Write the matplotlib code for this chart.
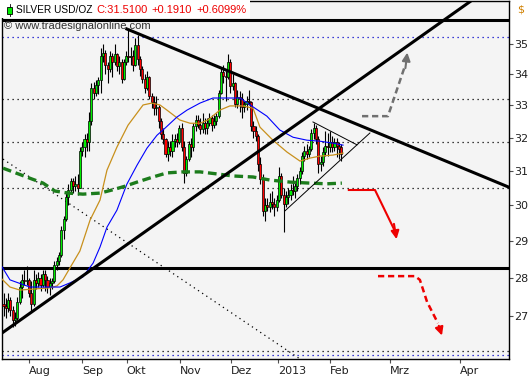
import numpy as np
import matplotlib.pyplot as plt
from matplotlib.patches import Rectangle
from matplotlib.ticker import FixedLocator, FixedFormatter, NullLocator

# daily candles, 17 Jul 2012 .. 8 Feb 2013 (x = trading day index)
opens = [27.30, 27.25, 27.20, 27.40, 27.15, 26.90, 26.95, 27.35, 27.75, 27.95, 27.90,
         27.95, 27.60, 27.30, 27.95, 27.85, 28.00, 27.80, 28.10, 27.95, 27.75, 27.85, 27.90,
         28.35, 28.45, 28.60, 29.30, 29.60, 30.25, 30.45, 30.70, 30.55, 30.60, 30.50,
         31.60, 31.70, 31.95, 31.85, 32.50, 33.55, 33.40, 33.65, 33.80, 34.60, 34.70, 34.30,
         34.15, 34.60, 34.40, 34.65, 34.25, 34.40, 33.85, 34.40,
         34.60, 34.55, 34.60, 34.30, 34.95, 34.50, 34.15, 33.85, 33.55, 33.90, 33.30, 33.10,
         32.90, 32.95, 32.50, 32.10, 31.95, 31.50, 31.70, 31.60, 31.90, 31.95, 31.85,
         32.30, 31.70, 30.95, 31.35, 31.80, 31.70, 32.35, 32.55, 32.40, 32.25, 32.45, 32.30,
         32.45, 32.60, 32.40, 32.50, 32.65, 33.40, 34.05, 33.95, 33.90, 34.40,
         33.60, 33.70, 33.05, 33.25, 33.20, 32.95, 33.05, 33.15, 33.10, 32.35, 32.20, 32.05,
         31.20, 30.75, 29.85, 30.00, 29.95, 30.10, 30.05, 29.95,
         30.15, 30.85, 30.30, 30.05, 30.25, 30.30, 30.45, 30.40, 30.55, 30.80, 31.00, 31.45,
         31.60, 31.50, 31.65, 32.15, 32.30, 31.95, 31.20, 31.25, 31.55, 31.75,
         31.70, 31.85, 31.70, 31.85, 31.75, 31.70]
highs = [27.60, 27.45, 27.60, 27.50, 27.25, 27.10, 27.50, 27.90, 28.10, 28.20, 28.30,
         28.00, 27.90, 28.20, 28.10, 28.15, 28.10, 28.20, 28.20, 28.05, 28.00, 28.00, 28.45,
         28.55, 28.70, 29.40, 29.70, 30.40, 30.60, 30.80, 30.80, 30.85, 30.90, 31.70,
         31.85, 32.10, 32.15, 32.80, 33.70, 33.75, 33.80, 33.90, 34.85, 35.00, 34.80, 34.40,
         34.75, 34.70, 35.00, 34.70, 34.60, 34.50, 34.50, 34.75,
         35.45, 34.90, 34.80, 35.20, 35.30, 34.60, 34.25, 34.00, 34.10, 33.95, 33.40, 33.30,
         33.30, 33.00, 32.60, 32.30, 32.00, 31.90, 31.90, 32.10, 32.10, 32.15, 32.40,
         32.45, 31.90, 31.45, 31.90, 32.00, 32.45, 32.70, 32.70, 32.60, 32.75, 32.60, 32.60,
         32.75, 32.70, 32.70, 32.75, 33.50, 34.20, 34.30, 34.10, 34.65, 34.50,
         34.00, 33.75, 33.50, 33.45, 33.40, 33.15, 33.30, 33.50, 33.15, 32.50, 32.35, 32.10,
         31.40, 30.90, 30.20, 30.20, 30.35, 30.40, 30.20, 30.30,
         31.10, 30.95, 30.50, 30.40, 30.50, 30.60, 30.85, 30.65, 30.90, 31.10, 31.55, 31.75,
         31.80, 31.75, 32.25, 32.45, 32.40, 32.05, 31.45, 31.70, 32.20, 32.15,
         32.20, 32.05, 32.00, 32.00, 31.85, 31.80]
lows = [27.00, 26.95, 27.10, 27.00, 26.70, 26.75, 26.90, 27.30, 27.45, 27.80, 27.80,
        27.50, 27.10, 27.25, 27.70, 27.75, 27.65, 27.75, 27.65, 27.60, 27.55, 27.70, 27.85,
        28.20, 28.35, 28.55, 29.05, 29.55, 30.00, 30.35, 30.35, 30.40, 30.30, 30.50,
        31.45, 31.40, 31.60, 31.60, 32.40, 33.20, 33.30, 33.35, 33.40, 34.40, 34.00, 33.70,
        34.05, 33.90, 34.30, 34.10, 34.00, 33.70, 33.80, 34.30,
        34.40, 34.30, 34.10, 34.25, 34.30, 33.95, 33.70, 33.40, 33.50, 33.20, 32.90, 32.70,
        32.70, 32.30, 31.95, 31.80, 31.40, 31.30, 31.45, 31.40, 31.70, 31.70, 31.80,
        31.60, 30.65, 30.85, 31.30, 31.40, 31.60, 32.20, 32.30, 32.10, 32.15, 32.10, 32.10,
        32.35, 32.20, 32.30, 32.40, 32.60, 33.35, 33.70, 33.15, 33.85, 33.40,
        33.50, 32.95, 32.90, 32.80, 32.60, 32.80, 32.85, 33.00, 32.20, 32.00, 31.90, 31.00,
        30.60, 29.70, 29.55, 29.85, 29.80, 29.90, 29.70, 29.85,
        30.10, 30.20, 29.25, 29.95, 30.05, 30.15, 30.30, 30.20, 30.40, 30.60, 30.90, 31.30,
        31.35, 31.40, 31.60, 31.95, 31.80, 30.95, 31.00, 31.15, 31.45, 31.45,
        31.55, 31.55, 31.60, 31.40, 31.35, 31.30]
closes = [27.25, 27.20, 27.40, 27.15, 26.90, 26.95, 27.35, 27.75, 27.95, 27.90, 27.95,
          27.60, 27.30, 27.95, 27.85, 28.00, 27.80, 28.10, 27.95, 27.75, 27.85, 27.90, 28.35,
          28.45, 28.60, 29.30, 29.60, 30.25, 30.45, 30.70, 30.55, 30.60, 30.50, 31.60,
          31.70, 31.95, 31.85, 32.50, 33.55, 33.40, 33.65, 33.80, 34.60, 34.70, 34.30, 34.15,
          34.60, 34.40, 34.65, 34.25, 34.40, 33.85, 34.40, 34.60,
          34.55, 34.60, 34.30, 34.95, 34.50, 34.15, 33.85, 33.55, 33.90, 33.30, 33.10, 32.90,
          32.95, 32.50, 32.10, 31.95, 31.50, 31.70, 31.60, 31.90, 31.95, 31.85, 32.30,
          31.70, 30.95, 31.35, 31.80, 31.70, 32.35, 32.55, 32.40, 32.25, 32.45, 32.30, 32.45,
          32.60, 32.40, 32.50, 32.65, 33.40, 34.05, 33.95, 33.90, 34.40, 33.60,
          33.70, 33.05, 33.25, 33.20, 32.95, 33.05, 33.15, 33.10, 32.35, 32.20, 32.05, 31.20,
          30.75, 29.85, 30.00, 29.95, 30.10, 30.05, 29.95, 30.15,
          30.85, 30.30, 30.05, 30.25, 30.30, 30.45, 30.40, 30.55, 30.80, 31.00, 31.45, 31.60,
          31.50, 31.65, 32.15, 32.30, 31.95, 31.20, 31.25, 31.55, 31.75, 31.70,
          31.85, 31.70, 31.85, 31.75, 31.65, 31.51]

# moving averages (bar index, price)
ma_fast_x = [-0.65, 2.8, 7.1, 20.1, 23.1, 25.7, 28.7, 33.0, 37.4, 41.7, 44.7, 49.0, 53.8,
             60.3, 64.1, 67.6, 70.6, 76.2, 80.6, 84.9, 88.3, 93.5, 97.8, 103.5, 107.8,
             110.8, 116.4, 122.5, 128.1, 132.4, 136.7, 142.3, 146.7]
ma_fast_y = [27.96, 27.75, 27.67, 27.73, 27.78, 27.94, 28.26, 28.72, 29.58, 30.15, 31.02,
             31.71, 32.38, 33.01, 33.07, 33.01, 32.85, 32.54, 32.44, 32.44, 32.54, 32.85,
             32.98, 32.98, 32.91, 32.32, 31.92, 31.56, 31.29, 31.38, 31.44, 31.47, 31.53]
ma_mid_x = [-0.65, 2.8, 11.4, 24.4, 28.7, 34.3, 38.7, 41.7, 44.7, 49.0, 53.3, 57.7, 62.0,
            66.3, 69.8, 74.9, 79.3, 84.9, 90.5, 97.8, 102.2, 107.8, 113.8, 119.4, 125.1,
            131.1, 136.7, 142.3, 146.7]
ma_mid_y = [28.29, 27.94, 27.75, 27.75, 27.86, 28.02, 28.39, 28.83, 29.38, 29.86, 30.61,
            31.17, 31.68, 32.07, 32.29, 32.63, 32.85, 33.07, 33.23, 33.23, 33.23, 32.95,
            32.66, 32.23, 32.01, 31.92, 31.89, 31.83, 31.77]
ma_slow_x = [-0.2, 12.3, 17.1, 22.2, 27.9, 34.3, 41.7, 46.9, 52.5, 57.7, 64.6, 70.6, 77.5,
             84.9, 92.2, 99.1, 107.8, 115.1, 123.8, 132.4, 139.7, 146.2]
ma_slow_y = [31.08, 30.76, 30.64, 30.41, 30.35, 30.32, 30.35, 30.44, 30.55, 30.67, 30.82,
             30.94, 30.97, 30.97, 30.91, 30.85, 30.82, 30.73, 30.67, 30.64, 30.62, 30.64]

# drawn levels and trend lines
solid_levels = [35.78, 28.27]
dotted_levels = [33.20, 31.86, 30.49, 26.11]
blue_dotted_levels = [35.21, 26.01]
down_trend = ([53.3, 218.4], [35.49, 30.52])
down_trend_faint = ([25.3, 31.7], [36.45, 36.35])
up_trend = ([-0.65, 203.7], [26.56, 36.55])
thin_dotted = ([-0.2, 130.2], [31.35, 25.83])
tri_upper = ([133.7, 152.7], [32.48, 31.78])
tri_lower = ([121.6, 158.3], [29.84, 32.14])

# scenario arrows
grey_path = ([154.9, 166.1, 174.3], [32.66, 32.66, 34.62])
red_path = ([149.2, 160.5, 170.0], [30.44, 30.44, 28.97])
red_dash_path = ([161.8, 177.8, 179.9, 183.0, 187.7, 189.8], [28.04, 28.04, 27.94, 27.36, 26.81, 26.43])

month_pos = [11, 34, 53.3, 76.2, 98.3, 118.6, 141, 167, 197.2]
month_lab = ['Aug', 'Sep', 'Okt', 'Nov', 'Dez', '2013', 'Feb', 'Mrz', 'Apr']
price_ticks = [27, 28, 29, 30, 31, 32, 33, 34, 35]

W, H = 531, 380
fig = plt.figure(figsize=(W / 100, H / 100), dpi=100)
fig.patch.set_facecolor('white')
ax = fig.add_axes([2 / W, 1 - 359 / H, 507 / W, 358 / H])
ax.set_facecolor('#f4f4f4')
ax.set_yscale('log')
ax.set_xlim(-0.65, 218.4)
ax.set_ylim(25.91, 36.45)

for lv in dotted_levels:
    ax.axhline(lv, color='black', lw=0.9, ls=(0, (1, 3)), zorder=1)
for lv in blue_dotted_levels:
    ax.axhline(lv, color='#0000cc', lw=0.9, ls=(0, (1, 3)), zorder=1)
for lv in solid_levels:
    ax.axhline(lv, color='black', lw=2.2, zorder=2)

ax.plot(*thin_dotted, color='black', lw=0.9, ls=(0, (1, 3)), zorder=1)

# candles
x = np.arange(len(closes))
o = np.array(opens)
c = np.array(closes)
up = c >= o
ax.vlines(x, lows, highs, color='black', lw=0.8, zorder=3)
ax.bar(x, np.abs(c - o), bottom=np.minimum(o, c), width=0.9,
       color=np.where(up, '#00ee00', '#ff0000'), edgecolor='black', linewidth=0.5, zorder=4)

ax.plot(ma_fast_x, ma_fast_y, color='#c8901c', lw=0.9, zorder=5)
ax.plot(ma_mid_x, ma_mid_y, color='#0000ff', lw=0.8, zorder=5)
ax.plot(ma_slow_x, ma_slow_y, color='#1c7c1c', lw=2.4, dashes=[2.6, 1.4], zorder=5)

ax.plot(*down_trend, color='black', lw=2.2, zorder=6)
ax.plot(*down_trend_faint, color='#b8b8b8', lw=2.2, zorder=6)
ax.plot(*up_trend, color='black', lw=2.2, zorder=6)
ax.plot(*tri_upper, color='black', lw=0.7, zorder=6)
ax.plot(*tri_lower, color='black', lw=0.7, zorder=6)

# arrows
gx, gy = grey_path
ax.plot(gx[:-1] + [gx[-1] - 0.8], gy[:-1] + [gy[-1] * 0.99], color='#707070', lw=1.8, dashes=[2.5, 1.5], zorder=6)
ax.annotate('', xy=(gx[-1] + 0.3, gy[-1] * 1.005), xytext=(gx[-1] - 0.8, gy[-1] * 0.985),
            arrowprops=dict(arrowstyle='-|>', color='#707070', lw=1.5, mutation_scale=12), zorder=6)
rx, ry = red_path
ax.plot(rx[:-1] + [rx[-1] - 0.8], ry[:-1] + [ry[-1] * 1.01], color='#ee0000', lw=1.5, zorder=6)
ax.annotate('', xy=(rx[-1], ry[-1]), xytext=(rx[-1] - 1.5, ry[-1] * 1.02),
            arrowprops=dict(arrowstyle='-|>', color='#ee0000', lw=1.5, mutation_scale=12), zorder=6)
dx, dy = red_dash_path
ax.plot(dx[:-1], dy[:-1], color='#ee0000', lw=1.8, dashes=[2.5, 1.5], zorder=6)
ax.annotate('', xy=(dx[-1], dy[-1]), xytext=(dx[-2], dy[-2]),
            arrowprops=dict(arrowstyle='-|>', color='#ee0000', lw=1.5, mutation_scale=12), zorder=6)

# axes decoration
ax.yaxis.tick_right()
ax.yaxis.set_major_locator(FixedLocator(price_ticks))
ax.yaxis.set_major_formatter(FixedFormatter([str(t) for t in price_ticks]))
ax.yaxis.set_minor_locator(NullLocator())
ax.tick_params(axis='y', length=3, width=0.8, color='#505050', labelsize=8, pad=1, labelcolor='#202020')
ax.set_xticks(month_pos)
ax.set_xticklabels(month_lab, ha='left')
ax.tick_params(axis='x', length=3, width=0.8, color='#505050', labelsize=8, pad=2, labelcolor='#202020')
for s in ax.spines.values():
    s.set_color('black')
    s.set_linewidth(1)

# header
hfont = 'Liberation Sans'
fig.add_artist(Rectangle((0, 1 - 18 / H), 250 / W, 18 / H, transform=fig.transFigure,
                         facecolor='white', edgecolor='none', zorder=10))
fig.add_artist(plt.Line2D([9.5 / W, 9.5 / W], [1 - 16 / H, 1 - 4 / H], transform=fig.transFigure,
                          color='black', lw=0.6, zorder=10.5))
fig.add_artist(Rectangle((7 / W, 1 - 14 / H), 5 / W, 7 / H, transform=fig.transFigure,
                         facecolor='#00ee00', edgecolor='black', lw=0.6, zorder=11))
fig.text(16 / W, 1 - 10 / H, 'SILVER USD/OZ', fontsize=7.3, family=hfont, color='black', va='center', zorder=12)
fig.text(96 / W, 1 - 10 / H, 'C:31.5100', fontsize=8, family=hfont, color='#ee0000', va='center', zorder=12)
fig.text(151 / W, 1 - 10 / H, '+0.1910', fontsize=8, family=hfont, color='#ee0000', va='center', zorder=12)
fig.text(196 / W, 1 - 10 / H, '+0.6099%', fontsize=8, family=hfont, color='#ee0000', va='center', zorder=12)
fig.text(4 / W, 1 - 26 / H, '\u00a9 www.tradesignalonline.com', fontsize=8, family=hfont,
         color='#303030', va='center', zorder=12)
fig.text(517 / W, 1 - 10 / H, '$', fontsize=8, color='#d08000', va='center', zorder=12)

fig.savefig('out.png', dpi=100)
